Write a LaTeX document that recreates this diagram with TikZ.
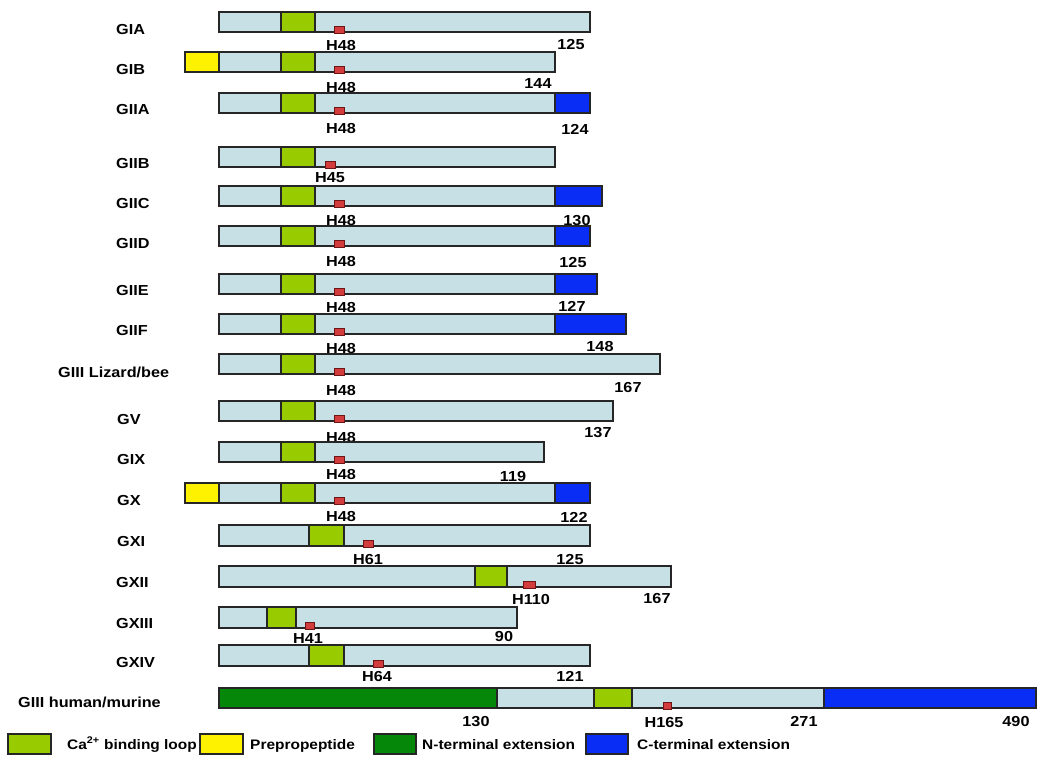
\documentclass[tikz,border=0pt]{standalone}
\usepackage{fontspec}
\setmainfont{Liberation Sans}[FakeStretch=1.12]
\definecolor{barblue}{RGB}{199,224,230}
\definecolor{lime}{RGB}{153,204,0}
\definecolor{cblue}{RGB}{10,45,245}
\definecolor{ngreen}{RGB}{5,135,10}
\definecolor{hred}{RGB}{210,60,60}
\definecolor{hredd}{RGB}{110,20,20}
\tikzset{
  seg/.style={draw=black!85, line width=1.2pt},
  lab/.style={font=\bfseries\fontsize{14.5}{16}\selectfont, inner sep=0pt, text height=10pt, text depth=0pt},
  rowlab/.style={lab, anchor=west},
  leglab/.style={font=\bfseries\fontsize{13.8}{16}\selectfont, inner sep=0pt, text height=10pt, text depth=0pt, anchor=west},
  his/.style={fill=hred, draw=hredd, line width=0.8pt}
}
\begin{document}
\begin{tikzpicture}[x=1pt,y=-1pt]
\useasboundingbox[fill=white] (0,0) rectangle (1050,769);
% ---------- GIA
\node[rowlab] (lGIA) at (116,29) {GIA};
\draw[seg, fill=barblue] (219,12) rectangle (590,32);
\draw[seg, fill=lime] (281,12) rectangle (315,32);
\draw[his] (334,26) rectangle (344,33);
\node[lab] (hGIA) at (341,45) {H48};
\node[lab] (nGIA) at (571,44) {125};
% ---------- GIB
\node[rowlab] (lGIB) at (116,69) {GIB};
\draw[seg, fill=yellow] (185,52) rectangle (219,72);
\draw[seg, fill=barblue] (219,52) rectangle (555,72);
\draw[seg, fill=lime] (281,52) rectangle (315,72);
\draw[his] (334,66) rectangle (344,73);
\node[lab] (hGIB) at (341,87) {H48};
\node[lab] (nGIB) at (538,83) {144};
% ---------- GIIA
\node[rowlab] (lGIIA) at (116,109) {GIIA};
\draw[seg, fill=barblue] (219,93) rectangle (555,113);
\draw[seg, fill=lime] (281,93) rectangle (315,113);
\draw[seg, fill=cblue] (555,93) rectangle (590,113);
\draw[his] (334,107) rectangle (344,114);
\node[lab] (hGIIA) at (341,128) {H48};
\node[lab] (nGIIA) at (575,129) {124};
% ---------- GIIB
\node[rowlab] (lGIIB) at (116,163) {GIIB};
\draw[seg, fill=barblue] (219,147) rectangle (555,167);
\draw[seg, fill=lime] (281,147) rectangle (315,167);
\draw[his] (325,161) rectangle (335,168);
\node[lab] (hGIIB) at (330,177) {H45};
% ---------- GIIC
\node[rowlab] (lGIIC) at (116,203) {GIIC};
\draw[seg, fill=barblue] (219,186) rectangle (555,206);
\draw[seg, fill=lime] (281,186) rectangle (315,206);
\draw[seg, fill=cblue] (555,186) rectangle (602,206);
\draw[his] (334,200) rectangle (344,207);
\node[lab] (hGIIC) at (341,220) {H48};
\node[lab] (nGIIC) at (577,220) {130};
% ---------- GIID
\node[rowlab] (lGIID) at (116,243) {GIID};
\draw[seg, fill=barblue] (219,226) rectangle (555,246);
\draw[seg, fill=lime] (281,226) rectangle (315,246);
\draw[seg, fill=cblue] (555,226) rectangle (590,246);
\draw[his] (334,240) rectangle (344,247);
\node[lab] (hGIID) at (341,261) {H48};
\node[lab] (nGIID) at (573,262) {125};
% ---------- GIIE
\node[rowlab] (lGIIE) at (116,290) {GIIE};
\draw[seg, fill=barblue] (219,274) rectangle (555,294);
\draw[seg, fill=lime] (281,274) rectangle (315,294);
\draw[seg, fill=cblue] (555,274) rectangle (597,294);
\draw[his] (334,288) rectangle (344,295);
\node[lab] (hGIIE) at (341,307) {H48};
\node[lab] (nGIIE) at (572,306) {127};
% ---------- GIIF
\node[rowlab] (lGIIF) at (116,330) {GIIF};
\draw[seg, fill=barblue] (219,314) rectangle (555,334);
\draw[seg, fill=lime] (281,314) rectangle (315,334);
\draw[seg, fill=cblue] (555,314) rectangle (626,334);
\draw[his] (334,328) rectangle (344,335);
\node[lab] (hGIIF) at (341,348) {H48};
\node[lab] (nGIIF) at (600,346) {148};
% ---------- GIII Lizard/bee
\node[rowlab] (lGIIIl) at (58,372) {GIII Lizard/bee};
\draw[seg, fill=barblue] (219,354) rectangle (660,374);
\draw[seg, fill=lime] (281,354) rectangle (315,374);
\draw[his] (334,368) rectangle (344,375);
\node[lab] (hGIIIl) at (341,390) {H48};
\node[lab] (nGIIIl) at (628,387) {167};
% ---------- GV
\node[rowlab] (lGV) at (117,419) {GV};
\draw[seg, fill=barblue] (219,401) rectangle (613,421);
\draw[seg, fill=lime] (281,401) rectangle (315,421);
\draw[his] (334,415) rectangle (344,422);
\node[lab] (hGV) at (341,437) {H48};
\node[lab] (nGV) at (598,432) {137};
% ---------- GIX
\node[rowlab] (lGIX) at (117,459) {GIX};
\draw[seg, fill=barblue] (219,442) rectangle (544,462);
\draw[seg, fill=lime] (281,442) rectangle (315,462);
\draw[his] (334,456) rectangle (344,463);
\node[lab] (hGIX) at (341,474) {H48};
\node[lab] (nGIX) at (513,476) {119};
% ---------- GX
\node[rowlab] (lGX) at (117,500) {GX};
\draw[seg, fill=yellow] (185,483) rectangle (219,503);
\draw[seg, fill=barblue] (219,483) rectangle (555,503);
\draw[seg, fill=lime] (281,483) rectangle (315,503);
\draw[seg, fill=cblue] (555,483) rectangle (590,503);
\draw[his] (334,497) rectangle (344,504);
\node[lab] (hGX) at (341,516) {H48};
\node[lab] (nGX) at (574,517) {122};
% ---------- GXI
\node[rowlab] (lGXI) at (117,541) {GXI};
\draw[seg, fill=barblue] (219,525) rectangle (590,546);
\draw[seg, fill=lime] (309,525) rectangle (344,546);
\draw[his] (363,540) rectangle (373,547);
\node[lab] (hGXI) at (368,559) {H61};
\node[lab] (nGXI) at (570,559) {125};
% ---------- GXII
\node[rowlab] (lGXII) at (116,582) {GXII};
\draw[seg, fill=barblue] (219,566) rectangle (671,587);
\draw[seg, fill=lime] (475,566) rectangle (507,587);
\draw[his] (523,581) rectangle (535,588);
\node[lab] (hGXII) at (531,599) {H110};
\node[lab] (nGXII) at (657,598) {167};
% ---------- GXIII
\node[rowlab] (lGXIII) at (116,623) {GXIII};
\draw[seg, fill=barblue] (219,607) rectangle (517,628);
\draw[seg, fill=lime] (267,607) rectangle (296,628);
\draw[his] (305,622) rectangle (314,629);
\node[lab] (hGXIII) at (308,638) {H41};
\node[lab] (nGXIII) at (504,636) {90};
% ---------- GXIV
\node[rowlab] (lGXIV) at (116,662) {GXIV};
\draw[seg, fill=barblue] (219,645) rectangle (590,666);
\draw[seg, fill=lime] (309,645) rectangle (344,666);
\draw[his] (373,660) rectangle (383,667);
\node[lab] (hGXIV) at (377,676) {H64};
\node[lab] (nGXIV) at (570,676) {121};
% ---------- GIII human/murine
\node[rowlab] (lGIIIh) at (18,702) {GIII human/murine};
\draw[seg, fill=barblue] (219,688) rectangle (1036,708);
\draw[seg, fill=ngreen] (219,688) rectangle (497,708);
\draw[seg, fill=lime] (594,688) rectangle (632,708);
\draw[seg, fill=cblue] (824,688) rectangle (1036,708);
\draw[his] (663,702) rectangle (671,709);
\node[lab] (n130) at (476,721) {130};
\node[lab] (hGIIIh) at (664,722) {H165};
\node[lab] (n271) at (804,721) {271};
\node[lab] (n490) at (1016,721) {490};
% ---------- legend
\draw[seg, fill=lime] (8,734) rectangle (51,754);
\draw[seg, fill=yellow] (200,734) rectangle (243,754);
\node[leglab] (lgCa) at (67,744) {Ca\textsuperscript{2+} binding loop};
\node[leglab] (lgPre) at (250,744) {Prepropeptide};
\draw[seg, fill=ngreen] (374,734) rectangle (416,754);
\node[leglab] (lgN) at (422,744) {N-terminal extension};
\draw[seg, fill=cblue] (586,734) rectangle (628,754);
\node[leglab] (lgC) at (637,744) {C-terminal extension};
\end{tikzpicture}
\end{document}
